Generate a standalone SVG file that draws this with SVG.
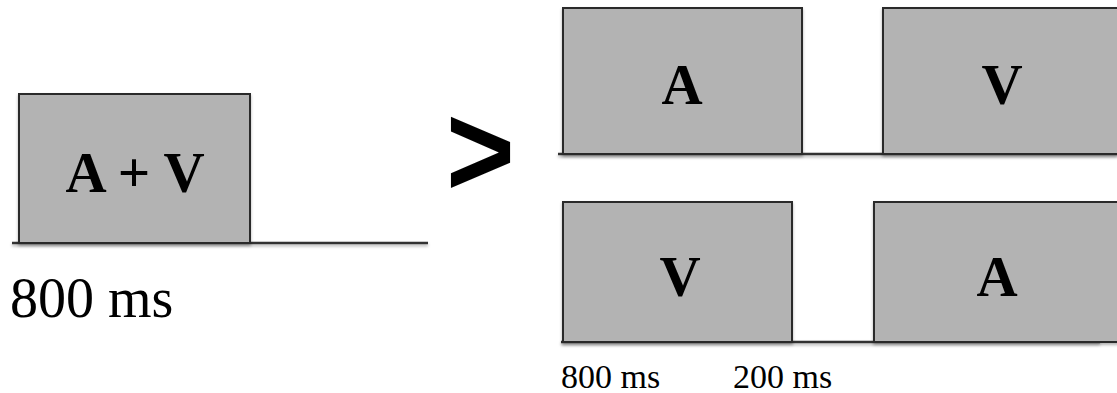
<svg xmlns="http://www.w3.org/2000/svg" width="1117" height="393" viewBox="0 0 1117 393">
  <style>
    .box { fill: #b3b3b3; stroke: #2b2b2b; stroke-width: 2; }
    .base { stroke: #333333; stroke-width: 2.5; fill: none; }
    .lbl { font-family: "Liberation Serif", "Times New Roman", serif; font-weight: bold; font-size: 57px; fill: #000; text-anchor: middle; }
    .time { font-family: "Liberation Serif", "Times New Roman", serif; fill: #000; }
  </style>
  <defs>
    <filter id="shadow" x="-10%" y="-10%" width="120%" height="130%">
      <feDropShadow dx="0" dy="2" stdDeviation="1.5" flood-color="#000" flood-opacity="0.3"/>
    </filter>
  </defs>
  <rect width="1117" height="393" fill="#ffffff"/>

  <!-- timelines -->
  <g id="connectors" class="base" filter="url(#shadow)">
    <line x1="12" y1="243" x2="428" y2="243"/>
    <line x1="558" y1="154" x2="1117" y2="154"/>
    <line x1="561" y1="342" x2="1100" y2="342"/>
  </g>

  <!-- simultaneous condition -->
  <g id="av" filter="url(#shadow)">
    <rect class="box" x="19" y="94" width="231" height="149"/>
    <text class="lbl" x="135" y="192">A + V</text>
  </g>
  <text class="time" x="10" y="317" font-size="56">800 ms</text>

  <text x="446" y="196" font-family="Liberation Sans, Arial, sans-serif" font-weight="bold" font-size="131" transform="translate(446 0) scale(0.9 1) translate(-446 0)">&gt;</text>

  <!-- auditory then visual -->
  <g id="a1" filter="url(#shadow)">
    <rect class="box" x="563" y="8" width="239" height="146"/>
    <text class="lbl" x="682" y="104">A</text>
  </g>
  <g id="v1" filter="url(#shadow)">
    <rect class="box" x="883" y="8" width="240" height="146"/>
    <text class="lbl" x="1002" y="104">V</text>
  </g>

  <!-- visual then auditory -->
  <g id="v2" filter="url(#shadow)">
    <rect class="box" x="563" y="202" width="229" height="140"/>
    <text class="lbl" x="680" y="296">V</text>
  </g>
  <g id="a2" filter="url(#shadow)">
    <rect class="box" x="874" y="202" width="250" height="140"/>
    <text class="lbl" x="997" y="296">A</text>
  </g>

  <text class="time" x="561" y="388" font-size="34">800 ms</text>
  <text class="time" x="733" y="388" font-size="34">200 ms</text>
</svg>
